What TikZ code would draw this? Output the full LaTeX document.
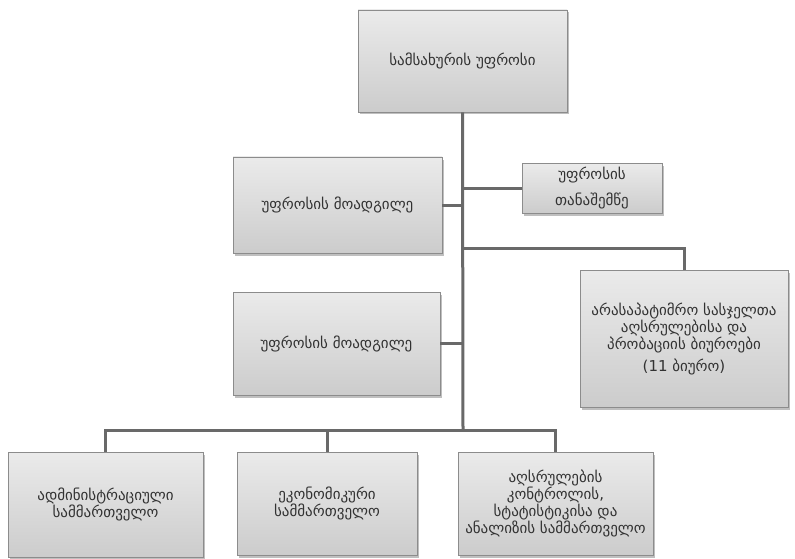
\documentclass[tikz,border=0pt]{standalone}
\usepackage{fontspec}
\newfontfamily\geo{DejaVu Sans}
\usetikzlibrary{shadows}
\definecolor{boxborder}{RGB}{140,140,140}
\definecolor{linecol}{RGB}{105,105,105}
\definecolor{txtcol}{RGB}{50,50,50}
\tikzset{
  orgbox/.style={draw=boxborder, line width=0.8pt,
    top color=gray!16, bottom color=gray!40, middle color=gray!28,
    drop shadow={shadow xshift=1.5pt, shadow yshift=-2.5pt, opacity=0.5},
    align=center, text=txtcol, font=\geo\fontsize{15}{17}\selectfont,
    inner sep=2pt},
  conn/.style={draw=linecol, line width=3pt}
}
\begin{document}
\begin{tikzpicture}[x={(1pt,0)}, y={(0,-1pt)}]
\useasboundingbox (0,0) rectangle (795,559);
\node[orgbox, minimum width=209pt, minimum height=102pt] (top) at (462.5,61) {სამსახურის უფროსი};
\node[orgbox, minimum width=209pt, minimum height=96pt] (dep1) at (337.5,205) {უფროსის მოადგილე};
\node[orgbox, minimum width=140pt, minimum height=50pt] (asst) at (592,188) {უფროსის\\[9pt]თანაშემწე};
\node[orgbox, minimum width=208pt, minimum height=137pt] (bur) at (684,338.5) {არასაპატიმრო სასჯელთა\\აღსრულებისა და\\პრობაციის ბიუროები\\[5pt](11 ბიურო)};
\node[orgbox, minimum width=207pt, minimum height=103pt] (dep2) at (336.5,343.5) {უფროსის მოადგილე};
\node[orgbox, minimum width=195pt, minimum height=105pt] (admin) at (105.5,504.5) {ადმინისტრაციული\\სამმართველო};
\node[orgbox, minimum width=180pt, minimum height=103pt] (econ) at (327,503.5) {ეკონომიკური\\სამმართველო};
\node[orgbox, minimum width=195pt, minimum height=103pt, font=\geo\fontsize{15}{15.5}\selectfont] (ctrl) at (555.5,503.5) {აღსრულების\\კონტროლის,\\სტატისტიკისა და\\ანალიზის სამმართველო};
\coordinate (bus) at (463,430);
\coordinate (j1) at (463,248);
\draw[conn] (top.south) -- (bus);
\draw[conn] (dep1.east) -- (dep1.east -| bus);
\draw[conn] (asst.west) -- (asst.west -| bus);
\draw[conn] (j1) -| (bur.north);
\draw[conn] (dep2.east) -- (dep2.east -| bus);
\draw[conn] (admin.north) |- (bus) -| (ctrl.north);
\draw[conn] (econ.north) -- (econ.north |- bus);
\end{tikzpicture}
\end{document}
